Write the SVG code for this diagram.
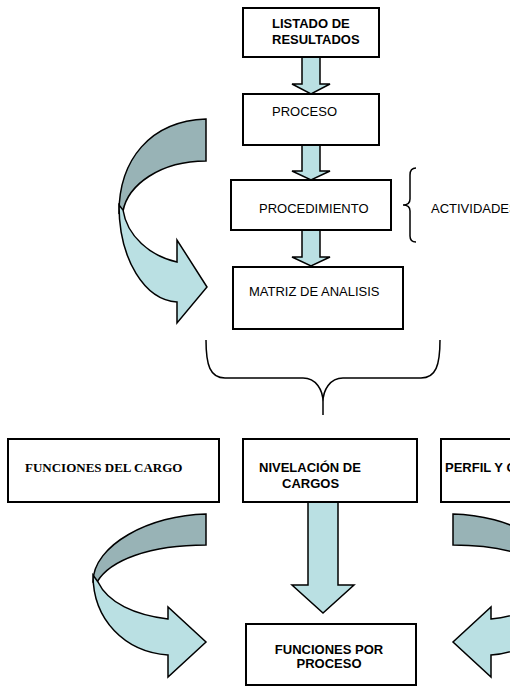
<svg xmlns="http://www.w3.org/2000/svg" width="510" height="686" viewBox="0 0 510 686">
<style>
.box{fill:#fff;stroke:#000;stroke-width:2}
.arr{fill:#BAE0E3;stroke:#000;stroke-width:1.5;stroke-linejoin:miter}
.back{fill:#98B3B6;stroke:#000;stroke-width:1.5}
.brace{fill:none;stroke:#000;stroke-width:1.5}
.t{font-family:"Liberation Sans",Arial,sans-serif;font-size:13px;fill:#000}
.b{font-weight:bold}
.s{font-family:"Liberation Serif","Times New Roman",serif;font-size:13px;font-weight:bold;fill:#000}
</style>
<defs>
<g id="curl">
<path class="back" d="M206,514 C150,515 93,545 93,582 L97,582 C110,560 150,545 206,545 Z"/>
<path class="arr" d="M93,575 C93,620 125,652 168,655 L168,677 L206,642 L168,607 L168,619 C135,615 108,603 98,582 Z"/>
</g>
</defs>
<g id="connectors">
<polygon class="arr" points="302,57 320,57 320,84 330,84 311,94 292,84 302,84"/>
<polygon class="arr" points="302,145 320,145 320,171 330,171 311,180 292,171 302,171"/>
<polygon class="arr" points="302,230 320,230 320,257 330,257 311,266 292,257 302,257"/>
<polygon class="arr" points="308,502 338,502 338,585 354,585 323,613 292,585 308,585"/>
<g id="curl-top">
<path class="back" d="M206,119 C150,121 119,160 119,213 L123,211 C128,185 160,161 206,161 Z"/>
<path class="arr" d="M119,205 C119,260 145,300 177,302 L177,323 L207,287 L177,240 L177,262 C150,256 127,236 123,210 Z"/>
</g>
<use id="curl-left" href="#curl"/>
<use id="curl-right" href="#curl" transform="translate(659,0) scale(-1,1)"/>
<path class="brace" d="M416,168 Q410,168 410,175 L410,199 Q410,205 403,205 Q410,205 410,211 L410,236 Q410,242 416,242"/>
<path class="brace" d="M206,340 C206,365 210,378 225,378 L303,378 C316,378 323,390 323,402 L323,415 M440,340 C440,365 436,378 421,378 L343,378 C330,378 323,390 323,402"/>
</g>
<g id="listado">
<rect class="box" x="243" y="8" width="136" height="49"/>
<text class="t b" x="272" y="28">LISTADO DE</text>
<text class="t b" x="272" y="44">RESULTADOS</text>
</g>
<g id="proceso">
<rect class="box" x="243" y="94" width="136" height="51"/>
<text class="t" x="272" y="116">PROCESO</text>
</g>
<g id="procedimiento">
<rect class="box" x="231" y="180" width="160" height="50"/>
<text class="t" x="259" y="213">PROCEDIMIENTO</text>
</g>
<g id="actividades">
<text class="t" x="431" y="213">ACTIVIDADES</text>
</g>
<g id="matriz">
<rect class="box" x="233" y="267" width="170" height="62"/>
<text class="t" x="249" y="296">MATRIZ DE ANALISIS</text>
</g>
<g id="funciones-cargo">
<rect class="box" x="8" y="439" width="211" height="63"/>
<text class="s" x="25" y="472">FUNCIONES DEL CARGO</text>
</g>
<g id="nivelacion">
<rect class="box" x="243" y="439" width="174" height="63"/>
<text class="t b" x="259" y="472">NIVELACIÓN DE</text>
<text class="t b" x="282" y="488">CARGOS</text>
</g>
<g id="perfil">
<rect class="box" x="441" y="439" width="100" height="63"/>
<text class="t b" x="445" y="472">PERFIL Y C</text>
</g>
<g id="funciones-proceso">
<rect class="box" x="246" y="624" width="170" height="61"/>
<text class="t b" x="329" y="654" text-anchor="middle">FUNCIONES POR</text>
<text class="t b" x="329" y="668" text-anchor="middle">PROCESO</text>
</g>
</svg>
